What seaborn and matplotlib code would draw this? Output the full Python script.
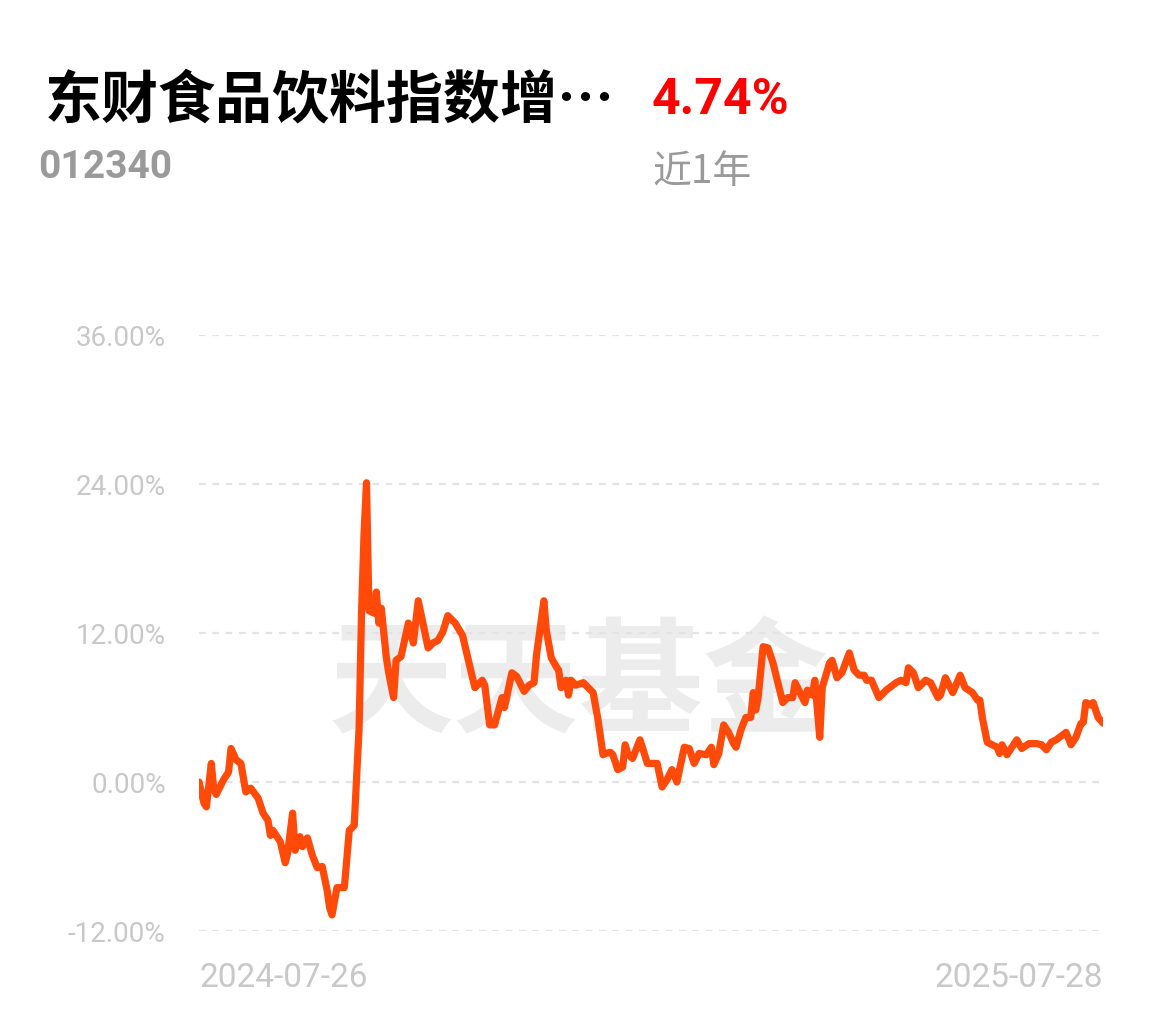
import pandas as pd
import seaborn as sns
import matplotlib.pyplot as plt
from matplotlib.ticker import FuncFormatter

# fund info
fund_name = '东财食品饮料指数增…'
fund_code = '012340'
period_label = '近1年'
period_return = '4.74%'
start_date = '2024-07-26'
end_date = '2025-07-28'

# days since start date, and cumulative return (%)
day_offset = [
    0, 2, 3, 5, 6, 7, 10, 12, 13, 15, 17, 19, 21, 24, 26, 28, 29, 30, 32, 33,
    35, 36, 38, 39, 41, 42, 44, 46, 48, 50, 52, 53, 54, 56, 58, 59, 61, 63, 65, 66,
    67, 68, 69, 71, 72, 73, 74, 76, 77, 79, 80, 82, 85, 87, 89, 93, 95, 97, 99, 101,
    104, 107, 109, 112, 115, 116, 118, 120, 123, 124, 127, 129, 132, 134, 136, 137, 140, 141, 143, 145,
    146, 147, 149, 150, 151, 153, 156, 158, 160, 162, 164, 165, 167, 168, 170, 172, 173, 174, 176, 179,
    180, 182, 184, 186, 188, 190, 192, 194, 197, 199, 201, 203, 206, 208, 209, 211, 213, 215, 217, 218,
    220, 222, 224, 225, 226, 227, 229, 231, 233, 235, 237, 239, 241, 242, 244, 246, 247, 249, 250, 252,
    253, 256, 257, 259, 261, 264, 266, 268, 270, 271, 273, 276, 279, 283, 285, 287, 288, 290, 292, 295,
    297, 300, 301, 303, 306, 309, 311, 314, 316, 317, 318, 320, 322, 324, 325, 326, 328, 330, 332, 334,
    337, 340, 342, 344, 346, 348, 352, 354, 356, 358, 359, 360, 362, 363, 365, 367,
]
returns = [
    0.0, -1.7, -2.0, 1.5, -0.6, -1.0, 0.2, 0.8, 2.7, 1.8, 1.5, -0.8, -0.5, -1.3, -2.5, -3.1, -4.3, -3.9, -4.5, -4.8,
    -6.5, -5.7, -2.5, -5.5, -4.4, -5.2, -4.5, -5.9, -6.9, -6.8, -8.7, -10.1, -10.7, -8.5, -8.5, -8.5, -3.9, -3.5, 4.4, 13.8,
    20.0, 24.1, 13.8, 13.6, 15.3, 12.8, 14.0, 10.1, 8.8, 6.8, 9.8, 10.1, 12.8, 11.2, 14.6, 10.8, 11.2, 11.4, 12.1, 13.4,
    12.8, 11.8, 10.1, 7.6, 8.2, 7.8, 4.6, 4.6, 6.8, 6.0, 8.8, 8.5, 7.3, 7.8, 8.0, 10.2, 14.6, 12.2, 10.0, 9.3,
    9.0, 7.6, 8.2, 7.0, 8.2, 7.8, 8.0, 7.6, 7.2, 5.0, 2.2, 2.3, 2.4, 2.2, 1.0, 1.2, 3.0, 2.3, 1.9, 3.4,
    2.8, 1.5, 1.5, 1.5, -0.4, 0.2, 1.0, 0.0, 2.8, 2.7, 1.5, 2.3, 2.2, 2.8, 1.4, 2.3, 4.6, 4.0, 3.1, 2.8,
    4.2, 5.2, 5.2, 7.2, 5.8, 6.8, 10.9, 10.8, 9.6, 8.0, 6.4, 6.8, 6.8, 8.0, 7.2, 6.4, 7.4, 7.0, 8.2, 3.6,
    7.6, 9.6, 9.8, 8.4, 8.8, 10.4, 9.0, 8.6, 8.6, 8.2, 8.2, 6.8, 7.4, 8.0, 8.2, 8.0, 9.2, 8.8, 7.6, 8.2,
    8.0, 6.8, 7.0, 8.4, 7.2, 8.6, 7.6, 7.2, 6.6, 6.6, 5.2, 3.2, 3.0, 2.8, 2.3, 3.0, 2.2, 2.8, 3.4, 2.7,
    3.1, 3.1, 3.0, 2.6, 3.2, 3.4, 4.0, 3.0, 3.6, 4.7, 4.8, 6.4, 6.2, 6.4, 5.2, 4.74,
]
y_ticks = [-12, 0, 12, 24, 36]

df = pd.DataFrame({
    'date': pd.Timestamp(start_date) + pd.to_timedelta(day_offset, unit='D'),
    'ret': returns,
})

sns.set_style('white')
plt.rcParams['font.family'] = ['Roboto', 'Noto Sans CJK SC', 'DejaVu Sans']

fig = plt.figure(figsize=(11.55, 10.22), dpi=100)
ax = fig.add_axes([0.1723, 0.0890, 0.7827, 0.5832])

sns.lineplot(data=df, x='date', y='ret', ax=ax, color='#ff4a0a', linewidth=5.2,
             solid_joinstyle='round', solid_capstyle='round', zorder=3)

ax.set_xlim(pd.Timestamp(start_date), pd.Timestamp(end_date))
ax.set_ylim(-12, 36)
ax.set_yticks(y_ticks)
ax.yaxis.set_major_formatter(FuncFormatter(lambda v, p: f'{v:.2f}%'))
ax.grid(axis='y', color='#e3e3e3', linestyle=(0, (3, 3)), linewidth=1.6, zorder=1)
ax.grid(axis='x', visible=False)
ax.set_xticks([pd.Timestamp(start_date), pd.Timestamp(end_date)])
ax.set_xticklabels([start_date, end_date])
xl = ax.get_xticklabels()
xl[0].set_ha('left')
xl[1].set_ha('right')
ax.tick_params(axis='y', length=0, pad=24, labelsize=20, labelcolor='#c8c8c8')
ax.tick_params(axis='x', length=0, pad=22, labelsize=24, labelcolor='#c8c8c8')
ax.set_xlabel('')
ax.set_ylabel('')
sns.despine(ax=ax, left=True, bottom=True)

# watermark
ax.text(0.42, 0.41, '天天基金', transform=ax.transAxes, ha='center', va='center',
        fontsize=90, fontweight='bold', color='#ececec', zorder=0,
        family=['Noto Sans CJK SC', 'DejaVu Sans'])

# header texts
fig.text(0.039, 0.902, fund_name, ha='left', va='center', fontsize=41, fontweight='bold',
         color='black', family=['Noto Sans CJK SC', 'DejaVu Sans'])
fig.text(0.5645, 0.902, period_return, ha='left', va='center', fontsize=36, fontweight='bold',
         color='#ff0000')
fig.text(0.033, 0.836, fund_code, ha='left', va='center', fontsize=28, fontweight='bold',
         color='#9a9a9a')
fig.text(0.5645, 0.832, period_label, ha='left', va='center', fontsize=28,
         color='#9a9a9a', family=['Noto Sans CJK SC', 'DejaVu Sans'])

plt.savefig('out.png', dpi=100)
